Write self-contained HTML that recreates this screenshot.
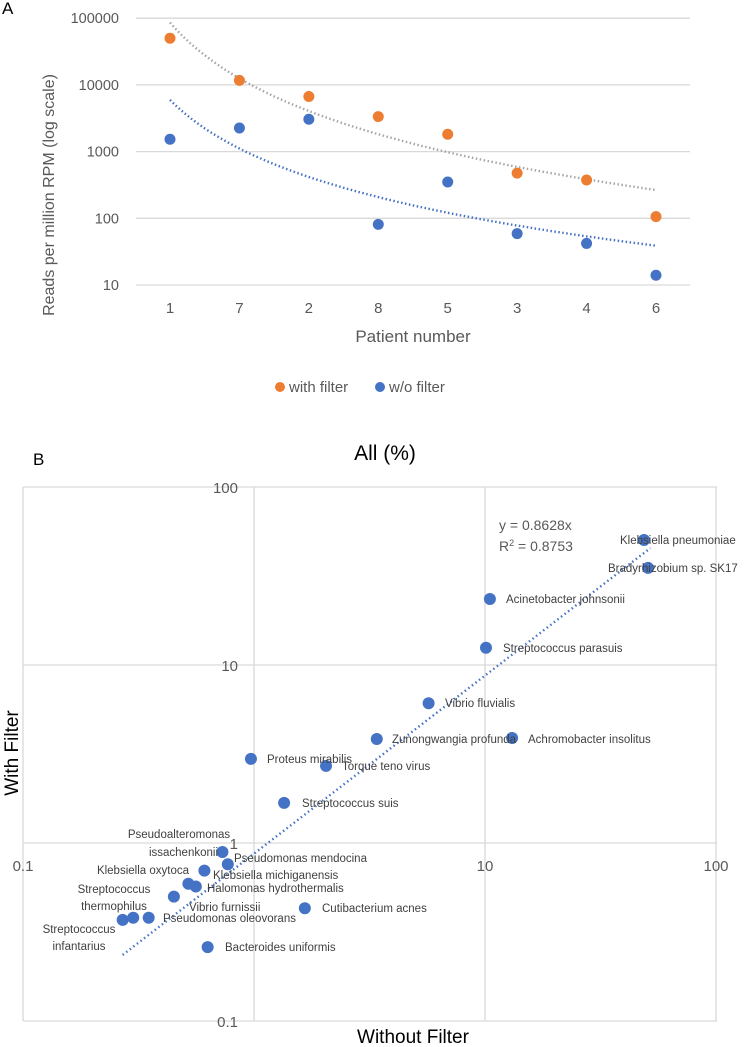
<!DOCTYPE html>
<html><head><meta charset="utf-8"><style>
html,body{margin:0;padding:0;background:#fff;}
svg{display:block;font-family:"Liberation Sans",sans-serif;}
</style></head><body>
<svg id="fig" width="744" height="1047" viewBox="0 0 744 1047" xmlns="http://www.w3.org/2000/svg">
<g id="panelA"></g>
<g id="panelB"></g>
</svg>
<script>
// ---------- Panel A data ----------
const aCategories = ["1","7","2","8","5","3","4","6"];
const aWithFilter = [50000, 11700, 6700, 3350, 1820, 475, 375, 106];
const aWithoutFilter = [1530, 2260, 3050, 81, 350, 59, 42, 14];
const aTicks = [10, 100, 1000, 10000, 100000];
const aTickLabels = ["10","100","1000","10000","100000"];
const aTrendWith = [86000, -2.78];    // power trend a*x^b
const aTrendWithout = [5950, -2.42];

// ---------- Panel B data ----------
const bNames = ["Klebsiella pneumoniae","Bradyrhizobium sp. SK17","Acinetobacter johnsonii","Streptococcus parasuis","Vibrio fluvialis","Zunongwangia profunda","Achromobacter insolitus","Proteus mirabilis","Torque teno virus","Streptococcus suis","Pseudoalteromonas issachenkonii","Pseudomonas mendocina","Klebsiella oxytoca","Klebsiella michiganensis","Halomonas hydrothermalis","Vibrio furnissii","Cutibacterium acnes","Streptococcus infantarius","Streptococcus thermophilus","Pseudomonas oleovorans","Bacteroides uniformis"];
const bWithout = [48.8, 50.8, 10.5, 10.1, 5.7, 3.4, 13.1, 0.97, 2.05, 1.35, 0.73, 0.77, 0.61, 0.52, 0.56, 0.45, 1.66, 0.27, 0.30, 0.35, 0.63];
const bWith = [50.4, 35.1, 23.5, 12.5, 6.1, 3.84, 3.89, 2.97, 2.71, 1.68, 0.89, 0.76, 0.70, 0.59, 0.57, 0.50, 0.43, 0.37, 0.38, 0.38, 0.26];
const bTrendX = [0.27, 52];
const bTrendY = [0.235, 45.4];
const bYTicks = [0.1, 1, 10, 100];
const bYTickLabels = ["0.1","1","10","100"];
const bXTicks = [0.1, 10, 100];
const bXTickLabels = ["0.1","10","100"];

const NS="http://www.w3.org/2000/svg";
function mk(parent,tag,attrs,text){const e=document.createElementNS(NS,tag);for(const k in attrs)e.setAttribute(k,attrs[k]);if(text!==undefined)e.textContent=text;parent.appendChild(e);return e;}

// ----- Panel A -----
const A=document.getElementById('panelA');
const aX0=136,aX1=690;
const axX=i=>170+i*(656-170)/(aCategories.length-1);
const ayY=v=>285-(Math.log10(v)-1)*66.7;
let t=mk(A,'text',{x:2,y:14,'font-size':17,fill:'#000'},'A');


aTicks.forEach((v,i)=>{
  const l=mk(A,'line',{x1:aX0,x2:aX1,y1:ayY(v),y2:ayY(v),stroke:'#d9d9d9','stroke-width':1.3});
  
  
  const tx=mk(A,'text',{x:119,y:ayY(v)+5,'text-anchor':'end','font-size':14.5,fill:'#595959'},aTickLabels[i]);
  
  
});
aCategories.forEach((c,i)=>{
  const tx=mk(A,'text',{x:axX(i),y:313,'text-anchor':'middle','font-size':15,fill:'#595959'},c);
  
  
});
t=mk(A,'text',{x:413,y:342,'text-anchor':'middle','font-size':17,fill:'#595959'},'Patient number');


t=mk(A,'text',{x:0,y:0,transform:'translate(54,195) rotate(-90)','text-anchor':'middle','font-size':16,fill:'#595959'},'Reads per million RPM (log scale)');


function trendA(p,color,name){
  let d='';for(let k=0;k<=70;k++){const xv=1+7*k/70;const px=axX(xv-1);const py=ayY(p[0]*Math.pow(xv,p[1]));d+=(k?'L':'M')+px.toFixed(1)+','+py.toFixed(1);}
  const e=mk(A,'path',{d:d,fill:'none',stroke:color,'stroke-width':2.4,'stroke-dasharray':'1.5 2.5'});
  
  
}
trendA(aTrendWith,'#a5a5a5','trendline-with-filter');
trendA(aTrendWithout,'#4472c4','trendline-without-filter');
aWithFilter.forEach((v,i)=>{
  const c=mk(A,'circle',{cx:axX(i),cy:ayY(v),r:5.5,fill:'#ed7d31'});
  
  
});
aWithoutFilter.forEach((v,i)=>{
  const c=mk(A,'circle',{cx:axX(i),cy:ayY(v),r:5.5,fill:'#4472c4'});
  
  
});
let lg=mk(A,'g',{});


let le=mk(lg,'g',{});


mk(le,'circle',{cx:280,cy:387,r:5,fill:'#ed7d31'});
mk(le,'text',{x:289,y:392,'font-size':15,fill:'#595959'},'with filter');
le=mk(lg,'g',{});


mk(le,'circle',{cx:380,cy:387,r:5,fill:'#4472c4'});
mk(le,'text',{x:389,y:392,'font-size':15,fill:'#595959'},'w/o filter');

// ----- Panel B -----
const B=document.getElementById('panelB');
const bxX=v=>23+(Math.log10(v)+1)*231;
const byY=v=>1021-(Math.log10(v)+1)*178;
t=mk(B,'text',{x:33,y:465,'font-size':17,fill:'#000'},'B');


t=mk(B,'text',{x:385,y:460,'text-anchor':'middle','font-size':21,fill:'#000'},'All (%)');


[0.1,1,10,100].forEach(v=>{
  const l=mk(B,'line',{x1:bxX(v),x2:bxX(v),y1:487,y2:1021,stroke:'#d9d9d9','stroke-width':1.3});
  
  
});
bYTicks.forEach((v,i)=>{
  const l=mk(B,'line',{x1:23,x2:717,y1:byY(v),y2:byY(v),stroke:'#d9d9d9','stroke-width':1.3});
  
  
  const tx=mk(B,'text',{x:238,y:byY(v)+6,'text-anchor':'end','font-size':15,fill:'#595959'},bYTickLabels[i]);
  
  
});
bXTicks.forEach((v,i)=>{
  const tx=mk(B,'text',{x:bxX(v),y:871,'text-anchor':'middle','font-size':15,fill:'#595959'},bXTickLabels[i]);
  
  
});
t=mk(B,'text',{x:413,y:1043,'text-anchor':'middle','font-size':19,fill:'#000'},'Without Filter');


t=mk(B,'text',{x:0,y:0,transform:'translate(18,753) rotate(-90)','text-anchor':'middle','font-size':19,fill:'#000'},'With Filter');


t=mk(B,'line',{x1:bxX(bTrendX[0]),y1:byY(bTrendY[0]),x2:bxX(bTrendX[1]),y2:byY(bTrendY[1]),stroke:'#4472c4','stroke-width':2.4,'stroke-dasharray':'1.5 3'});


t=mk(B,'text',{x:499,y:530,'font-size':14,fill:'#595959'},'y = 0.8628x');


t=mk(B,'text',{x:499,y:551,'font-size':14,fill:'#595959'});


t.innerHTML='R<tspan dy="-5" font-size="9">2</tspan><tspan dy="5"> = 0.8753</tspan>';
bWithout.forEach((v,i)=>{
  const c=mk(B,'circle',{cx:bxX(v),cy:byY(bWith[i]),r:6,fill:'#4472c4'});
  
  
});
// label layout [x, y, anchor] per species
const labelLayout=[[620,544,'start'],[608,572,'start'],[506,603,'start'],[503,652,'start'],[445,707,'start'],[392,743,'start'],[528,743,'start'],[267,763,'start'],[342,770,'start'],[302,807,'start'],[218,856,'end'],[234,862,'start'],[189,874,'end'],[213,879,'start'],[207,892,'start'],[189,911,'start'],[322,912,'start'],[79,933,'middle'],[114,893,'middle'],[163,922,'start'],[225,951,'start']];
bNames.forEach((n,i)=>{
  const L=labelLayout[i];
  let lines=[n];
  if(n==="Pseudoalteromonas issachenkonii"){lines=["Pseudoalteromonas","issachenkonii"];}
  if(n==="Streptococcus infantarius"||n==="Streptococcus thermophilus"){lines=n.split(' ');}
  lines.forEach((s,j)=>{
    let x=L[0],y=L[1]+j*17,anc=L[2];
    if(lines.length===2&&n.startsWith("Pseudoalteromonas")){ if(j===0){x=179;y=838;anc='middle';} else {y=856;} }
    const tx=mk(B,'text',{x:x,y:y,'text-anchor':anc,'font-size':11.5,fill:'#404040','textLength':0});
    tx.removeAttribute('textLength');
    tx.textContent=s;
    
    
  });
});
</script>
</body></html>
